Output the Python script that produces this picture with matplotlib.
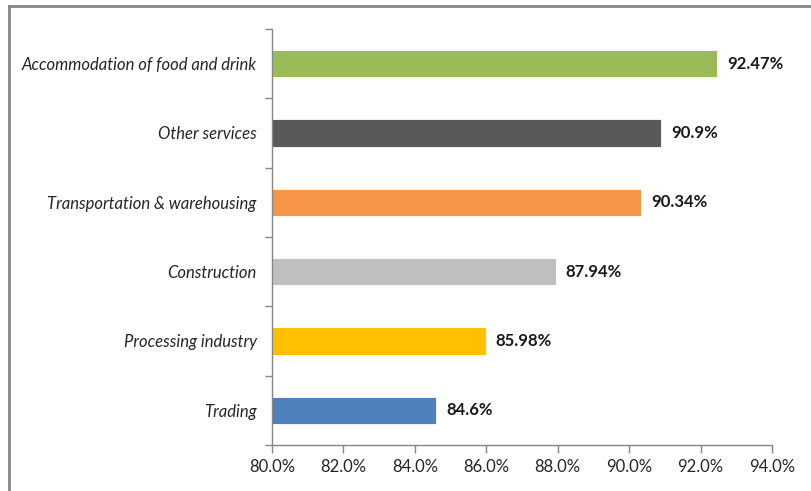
import matplotlib
matplotlib.use("Agg")
import matplotlib.pyplot as plt
from matplotlib.lines import Line2D
import numpy as np

categories = ["Trading", "Processing industry", "Construction",
              "Transportation & warehousing", "Other services",
              "Accommodation of food and drink"]
values = [84.6, 85.98, 87.94, 90.34, 90.9, 92.47]
value_labels = ["84.6%", "85.98%", "87.94%", "90.34%", "90.9%", "92.47%"]
colors = ["#4F81BD", "#FFC000", "#BFBFBF", "#F79646", "#595959", "#9BBB59"]
xticks = [80, 82, 84, 86, 88, 90, 92, 94]
xtick_labels = ["80.0%", "82.0%", "84.0%", "86.0%", "88.0%", "90.0%", "92.0%", "94.0%"]

plt.rcParams['font.family'] = ['Lato', 'DejaVu Sans']

fig = plt.figure(figsize=(8.12, 4.91), dpi=100)
ax = fig.add_axes([272/812, 1-445/491, 500/812, (445-29)/491])

y = np.arange(len(categories))
ax.barh(y, values, height=0.39, color=colors, edgecolor="white", linewidth=0.6)
for yi, v, lab in zip(y, values, value_labels):
    ax.text(v + 0.28, yi, lab, va="center", ha="left", fontsize=12,
            fontweight="bold", color="#1a1a1a")

ax.set_xlim(80, 94)
ax.set_ylim(-0.5, len(categories) - 0.5)
ax.set_xticks(xticks)
ax.set_xticklabels(xtick_labels, fontsize=12, color="#262626")
ax.set_yticks(y)
ax.set_yticklabels(categories, fontsize=12, style="italic", color="#262626")
ax.set_yticks(np.arange(len(categories) + 1) - 0.5, minor=True)
ax.tick_params(axis="y", which="major", length=0, pad=11)
ax.tick_params(axis="y", which="minor", length=5, color="#868686", width=1)
ax.tick_params(axis="x", which="major", length=6, color="#868686", width=1, pad=4)

for s in ["top", "right"]:
    ax.spines[s].set_visible(False)
for s in ["left", "bottom"]:
    ax.spines[s].set_color("#868686")
    ax.spines[s].set_linewidth(1)

# outer frame (left and top edges visible)
fig.add_artist(Line2D([9/812, 9/812], [0, 1-6/491], transform=fig.transFigure,
                      color="#868686", linewidth=2))
fig.add_artist(Line2D([9/812, 1], [1-6/491, 1-6/491], transform=fig.transFigure,
                      color="#868686", linewidth=2))

fig.savefig("out.png", dpi=100)
